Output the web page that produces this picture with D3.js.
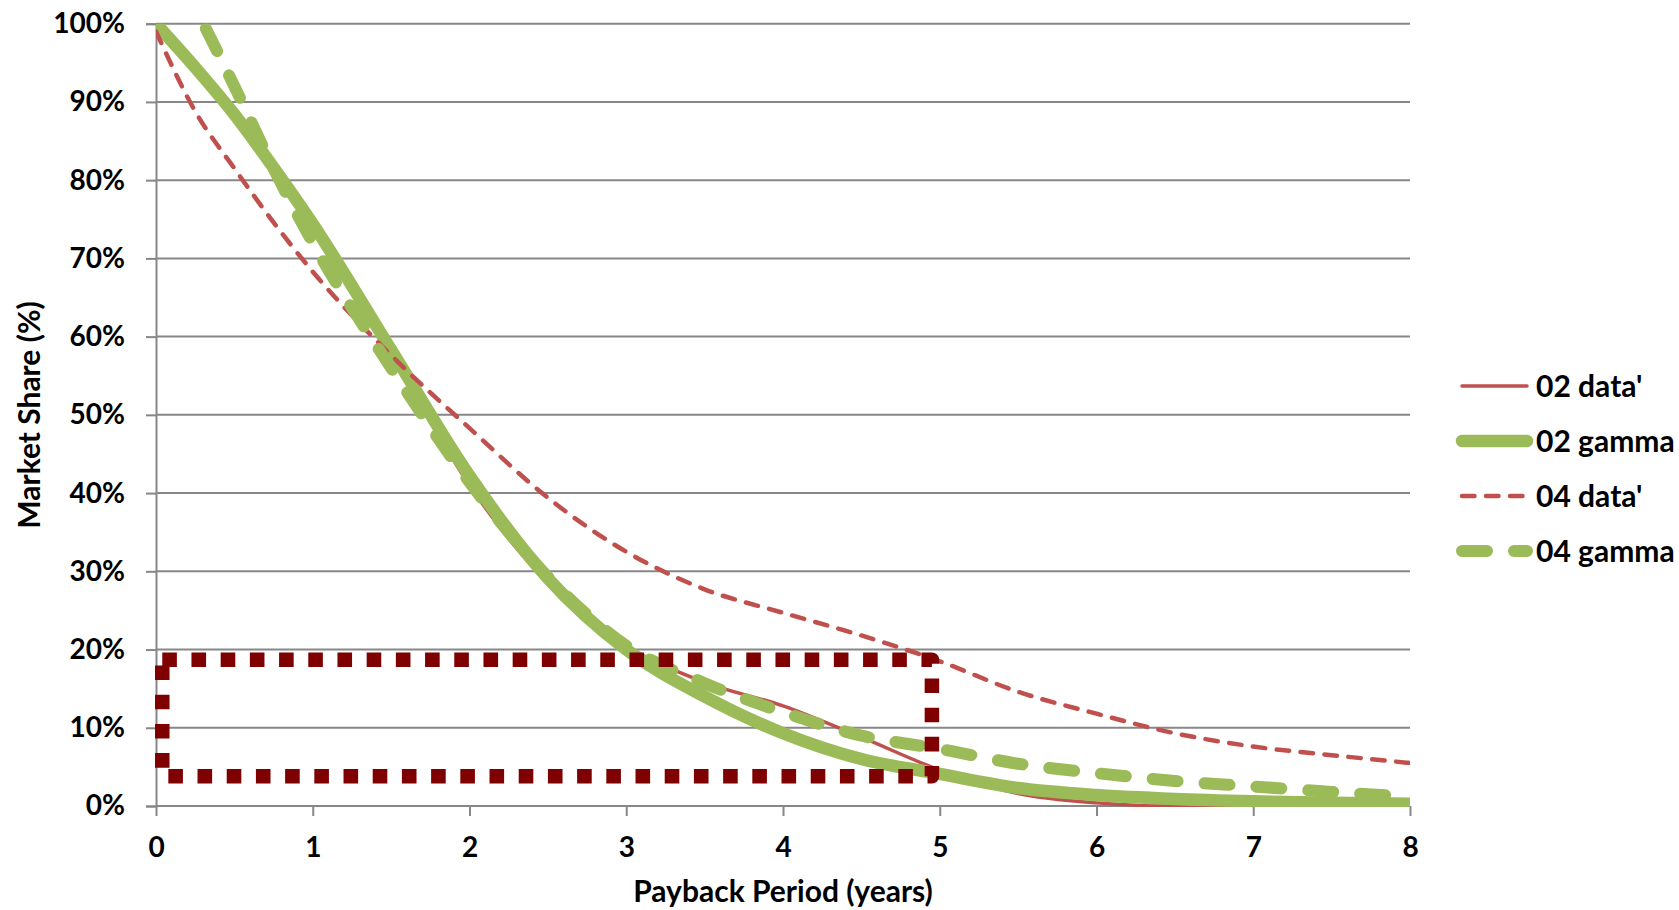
<!DOCTYPE html>
<html>
<head>
<meta charset="utf-8">
<script src="https://cdnjs.cloudflare.com/ajax/libs/d3/7.8.5/d3.min.js"></script>
<style>
  body { margin: 0; background: #fff; }
  text { font-family: Lato, "Noto Sans", sans-serif; font-weight: bold; fill: #000; }
</style>
</head>
<body>
<svg width="1679" height="910"></svg>
<script>
// values (market share in %)
var years = [0, 0.25, 0.5, 0.75, 1, 1.5, 2, 2.5, 3, 3.5, 4, 4.5, 5, 5.5, 6, 6.5, 7, 7.5, 8];
var data02 = [100, 94.5, 88.4, 81.6, 74.6, 58, 41, 28.5, 20.5, 15.8, 12.8, 8.8, 4.6, 1.6, 0.4, 0, 0, 0, 0];
var gamma02 = [100, 94.4, 88.4, 81.6, 74.4, 58.3, 42.2, 29.1, 20, 14, 9.3, 6, 4.1, 2.3, 1.4, 0.9, 0.6, 0.4, 0.3];
var data04 = [99, 88.8, 81.5, 74.6, 68.3, 57.6, 48.3, 39.4, 32.5, 27.7, 24.7, 21.8, 18.5, 14.6, 11.8, 9.3, 7.6, 6.5, 5.5];
var gamma04 = [111, 102, 92, 81.5, 72, 56, 41.4, 29.3, 20.5, 15.7, 12, 9, 7.3, 5.4, 4.2, 3.2, 2.5, 1.8, 1.2];

var seriesNames = ["02 data'", "02 gamma", "04 data'", "04 gamma"];
var xTicks = [0, 1, 2, 3, 4, 5, 6, 7, 8];
var yTicks = [0, 10, 20, 30, 40, 50, 60, 70, 80, 90, 100];

// highlighted region (years, %)
var boxYears = [0.04, 4.95];
var boxShare = [3.8, 18.7];

var red = "#C0504D", green = "#9BBB59", darkRed = "#7F0000", grid = "#878787";

var series = [
  {name: seriesNames[0], values: data02, color: red, width: 3.5, dash: null},
  {name: seriesNames[1], values: gamma02, color: green, width: 12.5, dash: null},
  {name: seriesNames[2], values: data04, color: red, width: 4.5, dash: "12.5,11.5"},
  {name: seriesNames[3], values: gamma04, color: green, width: 12, dash: "25,27"}
];

var svg = d3.select("svg");
svg.append("rect").attr("width", 1679).attr("height", 910).attr("fill", "#fff");

var x = d3.scaleLinear().domain([0, 8]).range([156, 1410]);
var y = d3.scaleLinear().domain([0, 100]).range([806, 23.7]);

// gridlines
svg.append("g")
  .selectAll("line")
  .data(yTicks)
  .enter().append("line")
  .attr("x1", x(0)).attr("x2", x(8))
  .attr("y1", function(d) { return y(d); })
  .attr("y2", function(d) { return y(d); })
  .attr("stroke", grid).attr("stroke-width", 2);

var yAxis = svg.append("g")
  .attr("transform", "translate(" + x(0) + ",0)")
  .call(d3.axisLeft(y).tickValues(yTicks).tickSize(10).tickPadding(21)
    .tickFormat(function(d) { return d + "%"; }));

var xAxis = svg.append("g")
  .attr("transform", "translate(0," + y(0) + ")")
  .call(d3.axisBottom(x).tickValues(xTicks).tickSize(10).tickPadding(21));

[yAxis, xAxis].forEach(function(g) {
  g.selectAll("path").attr("stroke", grid).attr("stroke-width", 2);
  g.selectAll("line").attr("stroke", grid).attr("stroke-width", 2);
  g.selectAll("text").attr("font-size", 28).attr("font-family", null).attr("fill", "#000");
});
xAxis.select(".domain").remove();

svg.append("clipPath").attr("id", "plot")
  .append("rect")
  .attr("x", x(0)).attr("y", y(100))
  .attr("width", x(8) - x(0)).attr("height", y(0) - y(100) + 1);

var line = d3.line()
  .x(function(d, i) { return x(years[i]); })
  .y(function(d) { return y(d); })
  .curve(d3.curveMonotoneX);

svg.append("g").attr("clip-path", "url(#plot)")
  .selectAll("path")
  .data(series)
  .enter().append("path")
  .attr("d", function(d) { return line(d.values); })
  .attr("fill", "none")
  .attr("stroke", function(d) { return d.color; })
  .attr("stroke-width", function(d) { return d.width; })
  .attr("stroke-dasharray", function(d) { return d.dash; })
  .attr("stroke-linecap", "round")
  .attr("stroke-linejoin", "round");

// dotted box
svg.append("rect")
  .attr("x", x(boxYears[0])).attr("y", y(boxShare[1]))
  .attr("width", x(boxYears[1]) - x(boxYears[0]))
  .attr("height", y(boxShare[0]) - y(boxShare[1]))
  .attr("fill", "none")
  .attr("stroke", darkRed)
  .attr("stroke-width", 14.5)
  .attr("stroke-dasharray", "14.6,14.6")
  .attr("stroke-linejoin", "round");

// legend
var legend = svg.append("g").selectAll("g")
  .data(series)
  .enter().append("g")
  .attr("transform", function(d, i) { return "translate(0," + (386 + i * 55) + ")"; });

legend.append("line")
  .attr("x1", 1462).attr("x2", 1527)
  .attr("stroke", function(d) { return d.color; })
  .attr("stroke-width", function(d) { return d.width; })
  .attr("stroke-dasharray", function(d) { return d.dash; })
  .attr("stroke-linecap", "round");

legend.append("text")
  .attr("x", 1536).attr("dy", "0.36em")
  .attr("font-size", 30)
  .text(function(d) { return d.name; });

// axis titles
svg.append("text")
  .attr("x", (x(0) + x(8)) / 2).attr("y", 902)
  .attr("text-anchor", "middle").attr("font-size", 30)
  .text("Payback Period (years)");

svg.append("text")
  .attr("transform", "translate(40," + 415 + ") rotate(-90)")
  .attr("text-anchor", "middle").attr("font-size", 30)
  .text("Market Share (%)");
</script>
</body>
</html>
